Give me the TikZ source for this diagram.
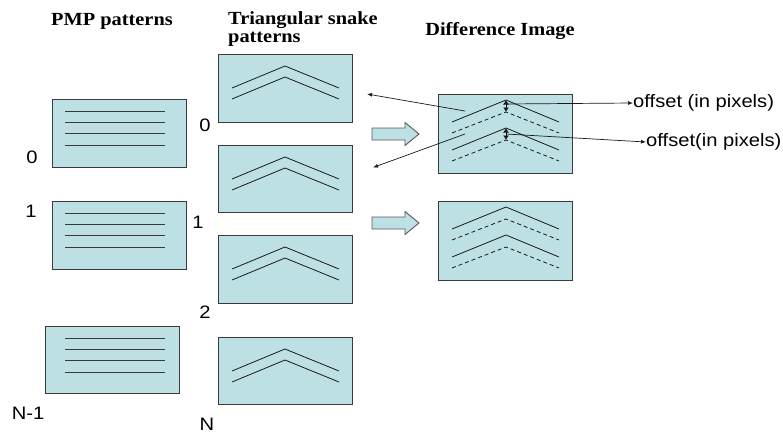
\documentclass[tikz,border=0pt]{standalone}
\usepackage{fontspec}
\setmainfont{Liberation Sans}
\newfontfamily\titlefont[FakeStretch=1.1]{Liberation Serif}
\newfontfamily\lblfont[FakeStretch=1.12]{Liberation Sans}
\usepackage{tikz}
\usetikzlibrary{positioning,arrows.meta,calc}
\definecolor{patfill}{HTML}{BCE0E3}
\definecolor{patedge}{HTML}{3A3A3A}
\definecolor{patink}{HTML}{1A1A1A}
\definecolor{blockedge}{HTML}{5A5A5A}
\tikzset{
  pbox/.style   ={draw=patedge,fill=patfill,line width=0.9pt,inner sep=0pt,outer sep=0pt,anchor=north west,minimum width=134pt},
  pline/.style  ={draw=patedge,line width=0.9pt},
  chev/.style   ={draw=patink,line width=0.8pt},
  dchev/.style  ={chev,dash pattern=on 4pt off 3pt},
  title/.style  ={font=\titlefont\bfseries\fontsize{18.5}{18.5}\selectfont,inner sep=0pt},
  lbl/.style    ={font=\lblfont\fontsize{18}{18}\selectfont,inner sep=0pt},
  arr/.style    ={-{Latex[length=5pt,width=4pt]},line width=0.7pt,draw=patink},
  darr/.style   ={{Latex[length=4.5pt,width=6pt]}-{Latex[length=4.5pt,width=6pt]},line width=1pt,draw=patink},
  blk/.style    ={draw=blockedge,fill=patfill,line width=0.9pt,line join=miter},
}
\begin{document}
\begin{tikzpicture}[x=1pt,y=-1pt]
  \useasboundingbox (0,0) rectangle (783,434);

  % titles
  \node[title,anchor=base] (tpmp) at (112,25) {PMP patterns};
  \node[title,anchor=north west,align=left] (tsnk) at (228,11) {Triangular snake\\[-0.5pt]patterns};
  \node[title,anchor=base] (tdif) at (500,35) {Difference Image};

  % PMP patterns
  \node[pbox,minimum height=68pt] (pmp0) at (52,99) {};
  \node[pbox,minimum height=68pt] (pmp1) at (52,201) {};
  \node[pbox,minimum height=67pt] (pmpN) at (45,326) {};
  \foreach \b/\dx in {pmp0/13,pmp1/13,pmpN/20}
    \foreach \d in {12,23.3,34.6,46}
      \draw[pline] ($(\b.north west)+(\dx,\d)$) -- ++(100,0);

  \node[lbl] (l0)  at (32,157) {0};
  \node[lbl] (l1)  at (31,211) {1};
  \node[lbl] (lN1) at (28,413) {N-1};

  % triangular snake patterns
  \node[pbox,minimum height=68pt] (snk0) at (218,54) {};
  \node[pbox,minimum height=67pt] (snk1) at (218,145) {};
  \node[pbox,minimum height=68pt] (snk2) at (218,235) {};
  \node[pbox,minimum height=67pt] (snkN) at (218,337) {};
  \foreach \b in {snk0,snk1,snk2,snkN}
    \foreach \d in {0,11}
      \draw[chev] ($(\b.north west)+(14,{34+\d})$) -- ++(53,-22) -- ++(54,22);

  \node[lbl] (s0) at (205,125) {0};
  \node[lbl] (s1) at (198,222) {1};
  \node[lbl] (s2) at (205,312) {2};
  \node[lbl] (sN) at (207,424) {N};

  % difference images
  \node[pbox,minimum height=79pt] (difA) at (438,94) {};
  \node[pbox,minimum height=79pt] (difB) at (438,201) {};
  \foreach \b in {difA,difB}
    \foreach \d in {0,28}{
      \draw[chev]  ($(\b.north west)+(14,{28+\d})$) -- ++(54,-22) -- ++(53,22);
      \draw[dchev] ($(\b.north west)+(14,{39+\d})$) -- ++(54,-21) -- ++(53,21);
    }

  % block arrows
  \coordinate (bA) at (372,134);
  \coordinate (bB) at (372,223);
  \foreach \c in {bA,bB}
    \draw[blk] ($(\c)+(0,-6)$) -- ++(33,0) -- ++(0,-5.5) -- ++(14,11.5) -- ++(-14,11.5)
      -- ++(0,-5.5) -- ++(-33,0) -- cycle;

  % offsets
  \coordinate (o1t) at ($(difA.north west)+(68,6)$);
  \coordinate (o1b) at ($(difA.north west)+(68,18)$);
  \coordinate (o2t) at ($(difA.north west)+(68,34)$);
  \coordinate (o2b) at ($(difA.north west)+(68,46)$);
  \draw[darr] (o1t) -- (o1b);
  \draw[darr] (o2t) -- (o2b);
  \node[lbl,anchor=west] (off1) at (633,103) {offset (in pixels)};
  \node[lbl,anchor=west] (off2) at (646,142) {offset(in pixels)};
  \draw[arr] ($(o1t)+(0,4)$) -- (off1.west);
  \draw[arr] ($(o2t)+(0,6)$) -- (off2.west);

  % back to the snake patterns
  \coordinate (fa) at ($(difA.north west)+(27,17)$);
  \coordinate (fb) at ($(difA.north west)+(27,40)$);
  \coordinate (ta) at ($(snk0.east)+(15,6)$);
  \coordinate (tb) at ($(snk1.east)+(21,-11)$);
  \draw[arr] (fa) -- (ta);
  \draw[arr] (fb) -- (tb);
\end{tikzpicture}
\end{document}
